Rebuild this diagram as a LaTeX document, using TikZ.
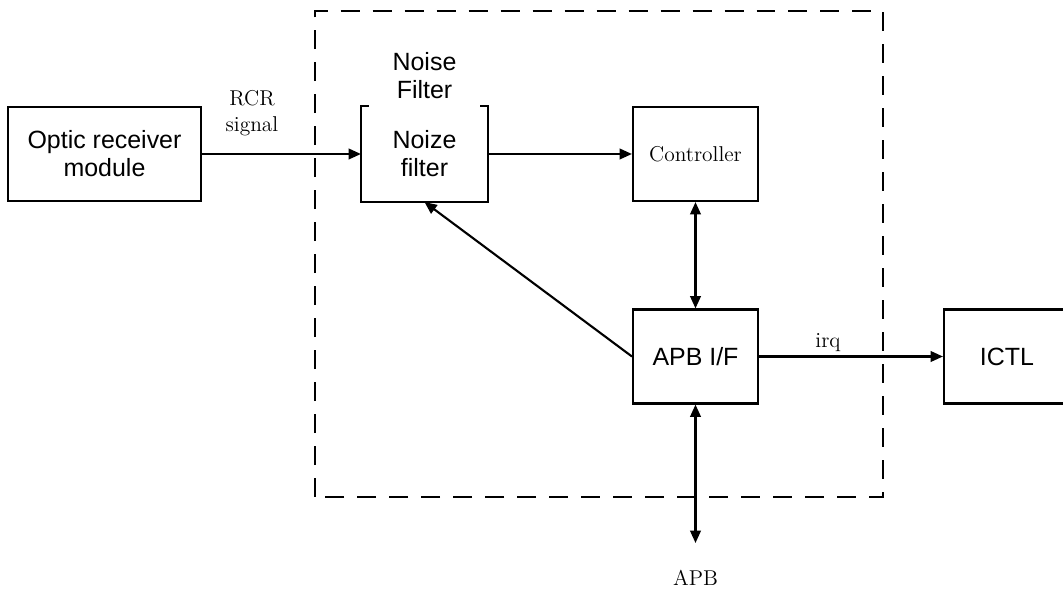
\documentclass[tikz,border=0pt]{standalone}
\usepackage{fontspec}
\usepackage{tikz}
\usetikzlibrary{arrows.meta,positioning,calc}
\newfontfamily\boxfont{Liberation Sans}

\begin{document}
\begin{tikzpicture}[
    blk/.style={draw, line width=1.2pt, minimum width=2.5cm, minimum height=1.88cm,
      inner sep=0pt, align=center, font=\boxfont\fontsize{14.2}{15.9}\selectfont},
    lbl/.style={align=center, font=\fontsize{12.2}{14.7}\selectfont},
    conn/.style={line width=1.2pt, -{Triangle[length=7pt,width=6pt]}},
    bconn/.style={line width=1.2pt,
      {Triangle[length=7pt,width=6pt]}-{Triangle[length=7pt,width=6pt]}}]
        \useasboundingbox (0,0) rectangle (21.26,11.8);
        % frame of the unit
        \draw[line width=1.4pt, dash pattern=on 10.8pt off 7.4pt] (6.3,1.86) rectangle (17.66,11.58);
        \node[blk, minimum width=3.86cm] (ORM) at (2.09,8.72) {Optic receiver\\module};
        \node[blk, draw=none] (NF) at (8.49,8.72) {Noize\\filter};
        \draw[line width=1.2pt] ($(NF.north west)+(0.16,0)$) -- (NF.north west) -- (NF.south west)
          -- (NF.south east) -- (NF.north east) -- ++(-0.17,0);
        \node[align=center, font=\boxfont\fontsize{14.2}{15.9}\selectfont] (NFT) at (8.49,10.28) {Noise\\Filter};
        \node[blk, font=\fontsize{12.2}{14.7}\selectfont] (CT) at (13.91,8.72) {Controller};
        \node[blk] (IF) at (13.91,4.67) {APB I/F};
        \node[blk, minimum width=2.52cm] (IC) at (20.14,4.67) {ICTL};
        \node[lbl] (RCR) at (5.04,9.54) {RCR\\signal};
        \node[lbl] (IRQ) at (16.56,4.94) {irq};
        \node[lbl] (APB) at (13.91,0.24) {APB};
        \coordinate (B) at (13.91,0.94);
        \draw[conn] (ORM) -- (NF);
        \draw[conn] (NF) -- (CT);
        \draw[bconn] (CT) -- (IF);
        \draw[conn] (IF.west) -- (NF.south);
        \draw[conn] (IF) -- (IC);
        \draw[bconn] (IF) -- (B);
      \end{tikzpicture}
\end{document}
